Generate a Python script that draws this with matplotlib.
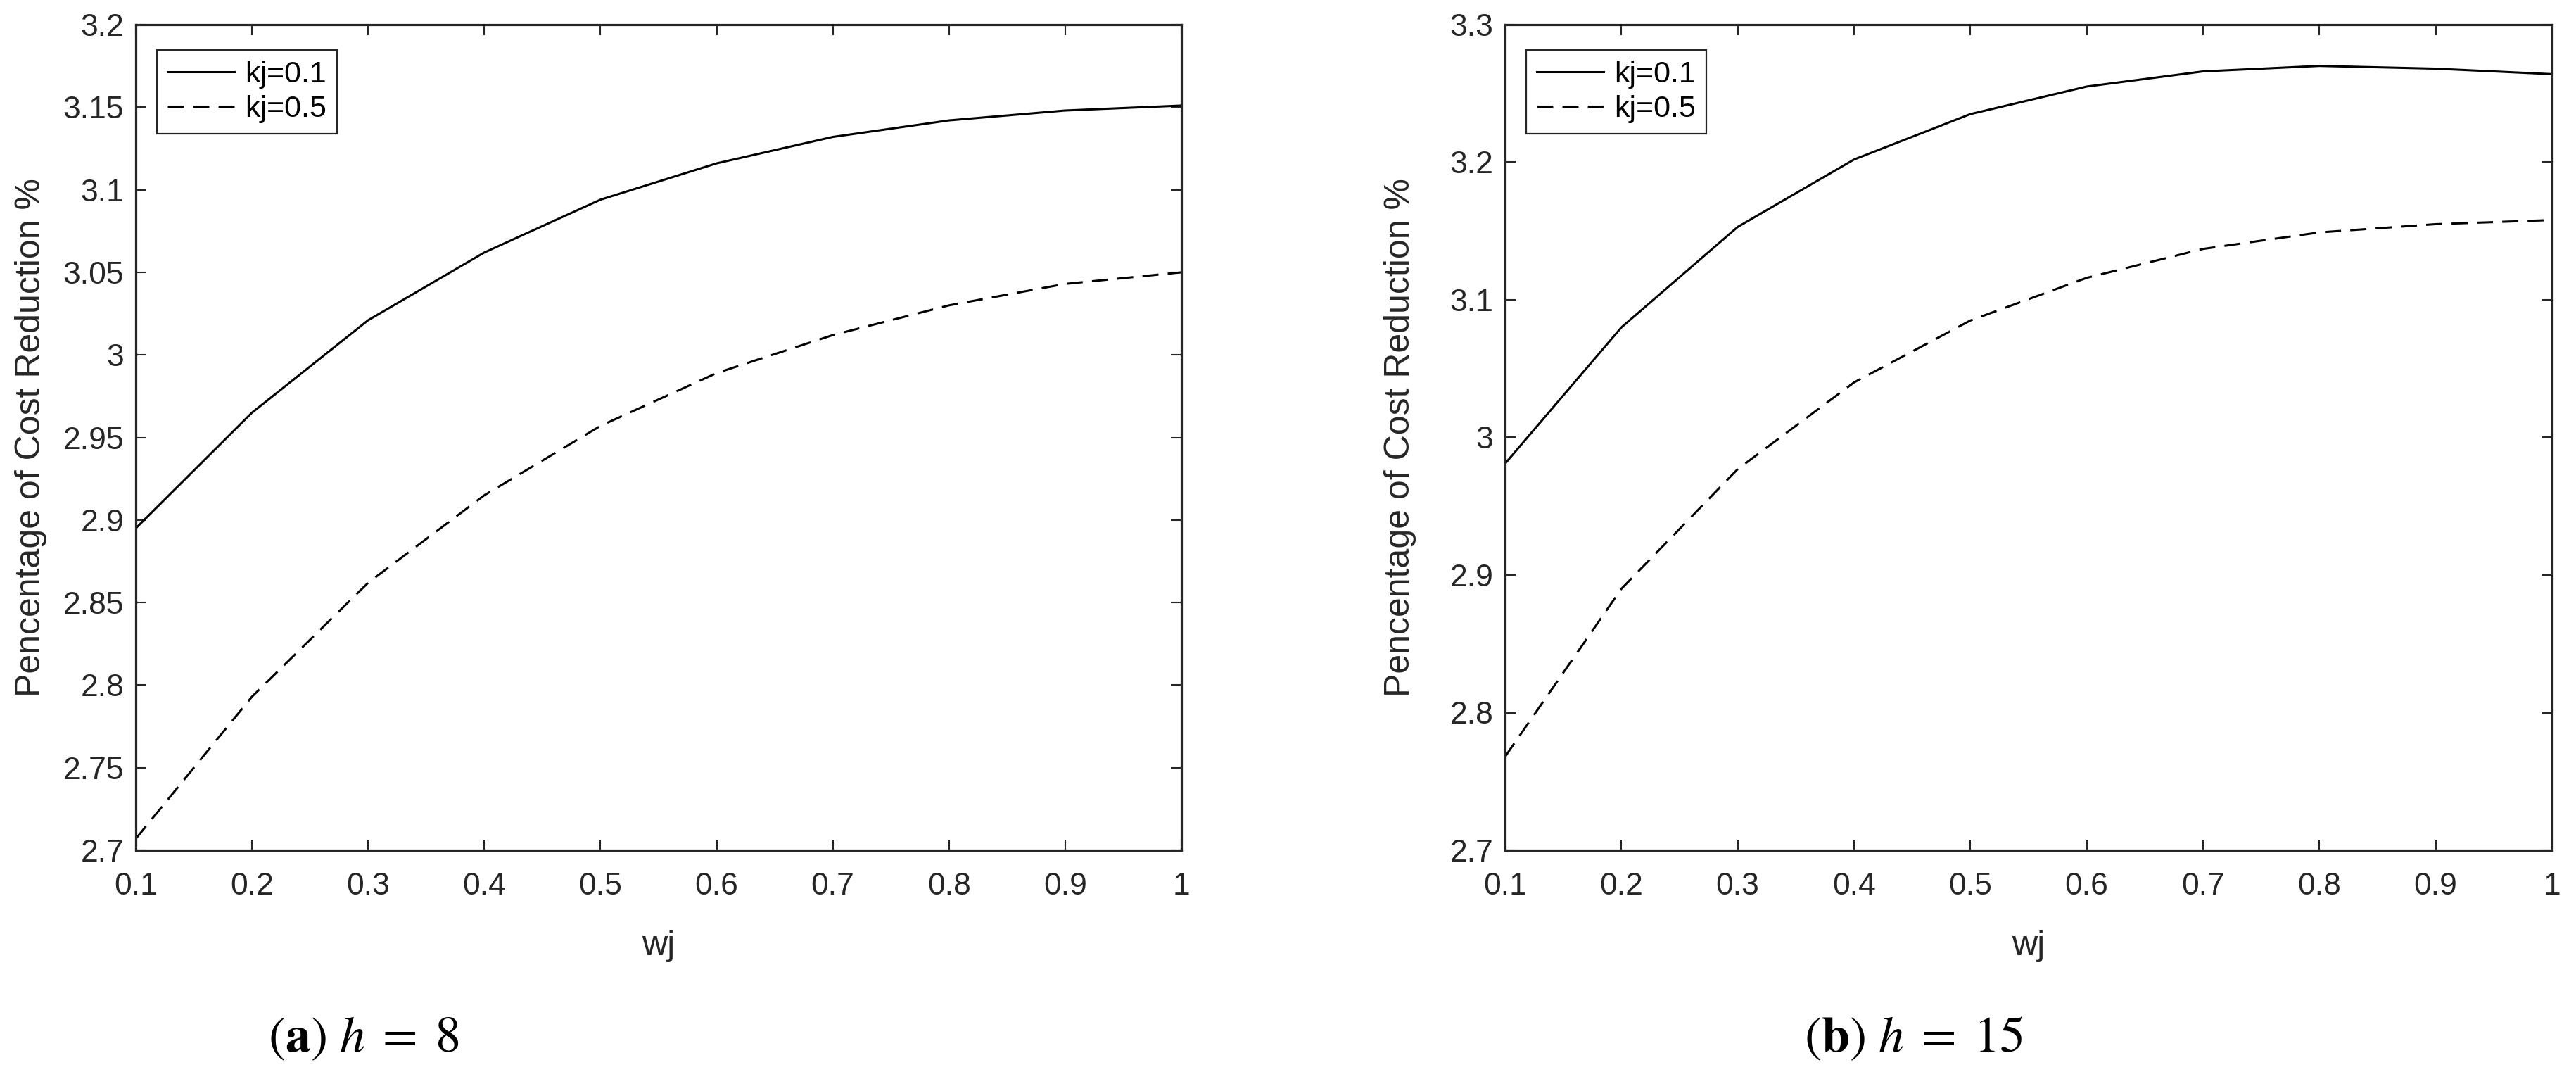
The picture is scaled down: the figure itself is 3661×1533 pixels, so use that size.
"""Two-panel line chart: percentage of cost reduction vs wj for two kj values."""
import matplotlib
matplotlib.use("Agg")
import matplotlib.pyplot as plt
from matplotlib.ticker import FixedLocator, FixedFormatter

plt.rcParams["font.family"] = ["Liberation Sans", "DejaVu Sans"]
plt.rcParams["mathtext.fontset"] = "stix"

# --- data ---
wj = [0.1, 0.2, 0.3, 0.4, 0.5, 0.6, 0.7, 0.8, 0.9, 1.0]
wj_labels = ["0.1", "0.2", "0.3", "0.4", "0.5", "0.6", "0.7", "0.8", "0.9", "1"]

h8_kj01 = [2.895, 2.965, 3.021, 3.062, 3.094, 3.116, 3.132, 3.142, 3.148, 3.151]
h8_kj05 = [2.707, 2.793, 2.862, 2.915, 2.957, 2.989, 3.012, 3.030, 3.043, 3.050]
h8_yticks = [2.7, 2.75, 2.8, 2.85, 2.9, 2.95, 3.0, 3.05, 3.1, 3.15, 3.2]
h8_ylabels = ["2.7", "2.75", "2.8", "2.85", "2.9", "2.95", "3", "3.05", "3.1", "3.15", "3.2"]

h15_kj01 = [2.981, 3.080, 3.153, 3.202, 3.235, 3.255, 3.266, 3.270, 3.268, 3.264]
h15_kj05 = [2.768, 2.890, 2.977, 3.040, 3.085, 3.116, 3.137, 3.149, 3.155, 3.158]
h15_yticks = [2.7, 2.8, 2.9, 3.0, 3.1, 3.2, 3.3]
h15_ylabels = ["2.7", "2.8", "2.9", "3", "3.1", "3.2", "3.3"]

series_labels = ["kj=0.1", "kj=0.5"]
captions = [r"$(\mathbf{a})\ h\;=\;8$", r"$(\mathbf{b})\ h\;=\;15$"]

AX = "#262626"
W, H = 3661, 1533

fig = plt.figure(figsize=(W / 100, H / 100), dpi=100)
ax1 = fig.add_axes([193 / W, 1 - 1208 / H, 1486 / W, 1173 / H])
ax2 = fig.add_axes([2139 / W, 1 - 1208 / H, 1488 / W, 1173 / H])


def panel(ax, y1, y2, yticks, ylabels):
    ax.plot(wj, y1, color="black", lw=2.2, label=series_labels[0])
    ax.plot(wj, y2, color="black", lw=2.2, ls=(0, (7.5, 4.3)), label=series_labels[1])
    ax.set_xlim(0.1, 1.0)
    ax.set_ylim(yticks[0], yticks[-1])
    ax.xaxis.set_major_locator(FixedLocator(wj))
    ax.xaxis.set_major_formatter(FixedFormatter(wj_labels))
    ax.yaxis.set_major_locator(FixedLocator(yticks))
    ax.yaxis.set_major_formatter(FixedFormatter(ylabels))
    ax.tick_params(direction="in", length=11, width=1.5, colors=AX,
                   labelsize=32, top=True, right=True, pad=12)
    ax.tick_params(axis="x", pad=22)
    for s in ax.spines.values():
        s.set_linewidth(2.3)
        s.set_color(AX)
    ax.set_xlabel("wj", fontsize=36, color=AX, labelpad=30)
    ax.set_ylabel("Pencentage of Cost Reduction %", fontsize=36, color=AX)
    ax.yaxis.set_label_coords(-126 / 1486, 0.5)
    leg = ax.legend(loc="upper left", bbox_to_anchor=(30 / 1486, 1 - 36 / 1173),
                    borderaxespad=0, fontsize=31, handlelength=2.2, handletextpad=0.35,
                    labelspacing=0.2, borderpad=0.35, fancybox=False,
                    framealpha=1, edgecolor=AX)
    leg.get_frame().set_linewidth(1.6)


panel(ax1, h8_kj01, h8_kj05, h8_yticks, h8_ylabels)
panel(ax2, h15_kj01, h15_kj05, h15_yticks, h15_ylabels)

fig.text(517 / W, 1 - 1476 / H, captions[0], ha="center", va="center", fontsize=52)
fig.text(2719 / W, 1 - 1476 / H, captions[1], ha="center", va="center", fontsize=52)

fig.savefig("out.png", dpi=100)
